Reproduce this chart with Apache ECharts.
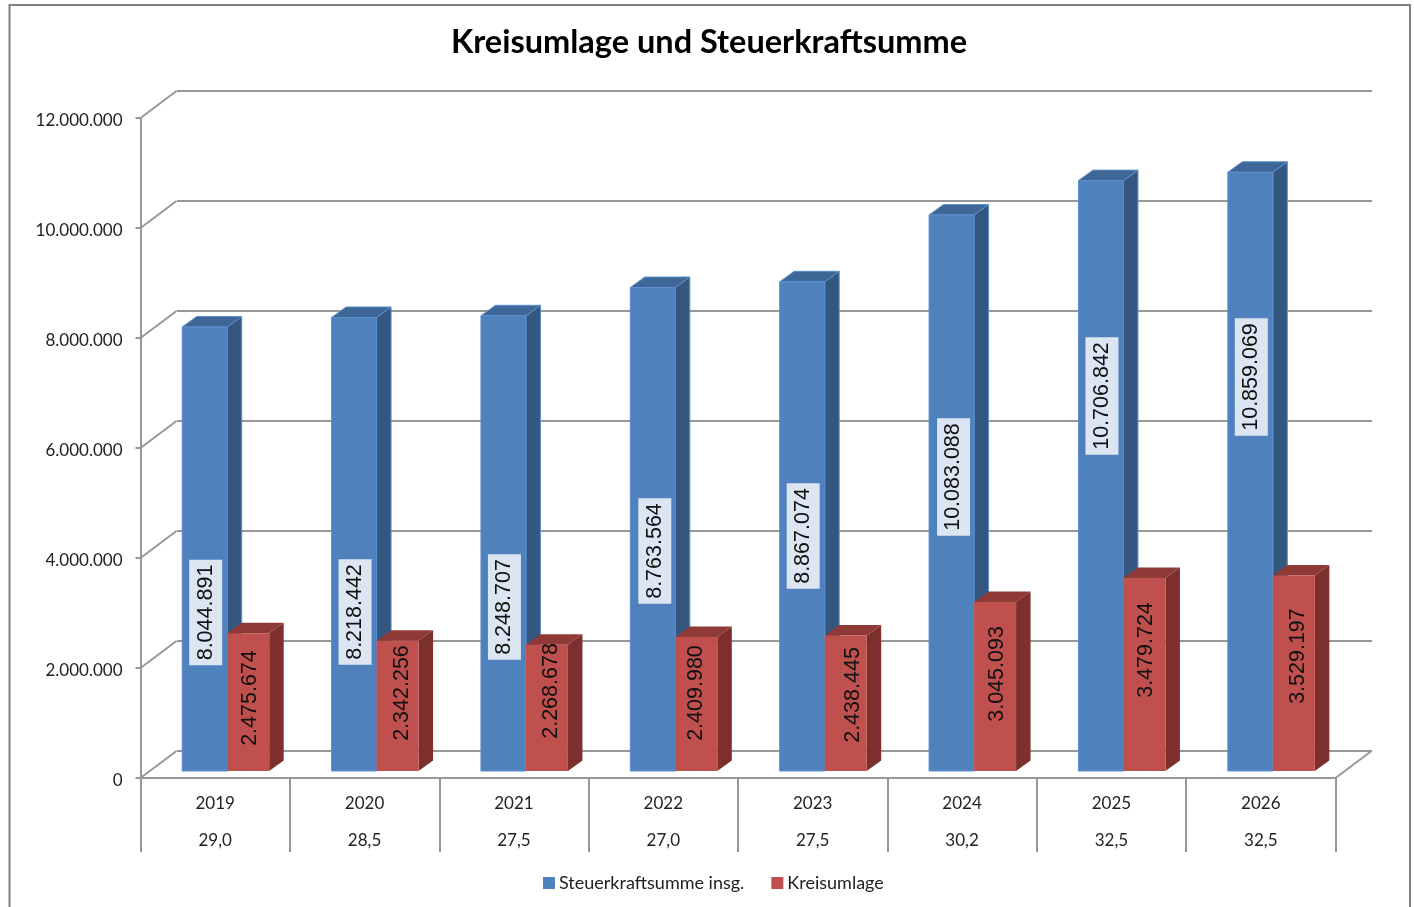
<!DOCTYPE html>
<html><head><meta charset="utf-8">
<style>html,body{margin:0;padding:0;background:#fff}#c{width:1414px;height:907px}</style>
<script src="https://cdn.jsdelivr.net/npm/echarts@6/dist/echarts.min.js"></script>
</head><body><div id="c"></div>
<script>
const years = ['2019','2020','2021','2022','2023','2024','2025','2026'];
const rates = ['29,0','28,5','27,5','27,0','27,5','30,2','32,5','32,5'];
const steuerkraft = [8044891,8218442,8248707,8763564,8867074,10083088,10706842,10859069];
const kreisumlage = [2475674,2342256,2268678,2409980,2438445,3045093,3479724,3529197];
const yTicks = [0,2000000,4000000,6000000,8000000,10000000,12000000];
// level on the value axis where each data label is centred (placed by hand in the original)
const steuerLabelLevel = [2882000,2891000,2982000,4000000,4273000,5345000,6818000,7164000];
const kreisLabelLevel = [1327000,1418000,1455000,1418000,1382000,1764000,2200000,2090000];
const steuerLabelNudge = [1,1,1,2,1,2,1,1];
const kreisLabelNudge = [2,5,4,0,7,2,2,4];

const FONT = 'Lato, "Noto Sans", sans-serif';
const LABELFONT = '21.5px "Liberation Sans", Arial, sans-serif';
const fmt = n => String(n).replace(/\B(?=(\d{3})+(?!\d))/g, '.');
const GREY = '#979797';

function bar(x0, x1, colors, labelBg, stroke) {
  return function (params, api) {
    const p0 = api.coord([api.value(0), 0]);
    const p1 = api.coord([api.value(0), api.value(1)]);
    const pl = api.coord([api.value(0), api.value(2)]);
    const cx = p0[0], yb = p0[1] - 7, yt = p1[1] - 8.5;
    const l = cx + x0, r = cx + x1, dx = 14.5, dy = -10.5;
    const edge = stroke ? {stroke: stroke, lineWidth: 1} : {};
    return {type: 'group', children: [
      {type: 'polygon', shape: {points: [[r, yb],[r + dx, yb + dy],[r + dx, yt + dy],[r, yt]]},
        style: Object.assign({fill: colors[2]}, edge)},
      {type: 'polygon', shape: {points: [[l, yt],[r, yt],[r + dx, yt + dy],[l + dx, yt + dy]]},
        style: Object.assign({fill: colors[1]}, edge)},
      {type: 'rect', shape: {x: l, y: yt, width: r - l, height: yb - yt},
        style: Object.assign({fill: colors[0]}, edge)},
      {type: 'text', x: (l + r) / 2 + (api.value(3) || 0), y: pl[1] - 7, rotation: Math.PI / 2,
        style: {text: fmt(api.value(1)), font: LABELFONT, fill: '#111', align: 'center', verticalAlign: 'middle',
          backgroundColor: labelBg, padding: labelBg ? [7, 5, 4, 5] : [3, 0, 0, 0]}}
    ]};
  };
}

const chart = echarts.init(document.getElementById('c'), null, {renderer: 'canvas'});
chart.setOption({
  backgroundColor: '#fff',
  animation: false,
  title: {text: 'Kreisumlage und Steuerkraftsumme', left: 704, textAlign: 'center', top: 21,
    textStyle: {fontFamily: FONT, fontWeight: 'bold', fontSize: 32.5, color: '#000'}},
  legend: {data: ['Steuerkraftsumme insg.', 'Kreisumlage'], left: 538, top: 869, icon: 'rect',
    itemWidth: 12, itemHeight: 12, itemGap: 27,
    textStyle: {fontFamily: FONT, fontSize: 18, color: '#222', padding: [0, 0, 0, -1]}},
  graphic: [{type: 'polyline', z: -1, shape: {points: [[9.5, 907],[9.5, 5],[1410, 5],[1410, 907]]},
    style: {fill: 'none', stroke: '#808080', lineWidth: 2}}],
  grid: [
    {left: 140.5, right: 78.5, top: 118, bottom: 129},
    {left: 177, right: 42, top: 91, bottom: 156}
  ],
  xAxis: [
    {type: 'category', gridIndex: 0, data: years.map((y, i) => y + '\n' + rates[i]),
      axisLine: {lineStyle: {color: GREY, width: 2}},
      axisTick: {show: true, alignWithLabel: false, interval: 0, length: 74, lineStyle: {color: GREY, width: 2}},
      axisLabel: {fontFamily: FONT, fontSize: 17, color: '#222', lineHeight: 37, margin: 7, interval: 0}},
    {type: 'category', gridIndex: 1, data: years,
      axisLine: {show: false}, axisTick: {show: false}, axisLabel: {show: false}}
  ],
  yAxis: [
    {type: 'value', gridIndex: 0, min: 0, max: 12000000, interval: 2000000,
      splitLine: {show: false},
      axisLine: {show: true, lineStyle: {color: GREY, width: 2}},
      axisTick: {show: true, length: 5, lineStyle: {color: GREY, width: 2}},
      axisLabel: {fontFamily: FONT, fontSize: 17, color: '#222', margin: 18, verticalAlign: 'top', lineHeight: 6, formatter: v => fmt(v)}},
    {type: 'value', gridIndex: 1, min: 0, max: 12000000, interval: 2000000,
      splitLine: {show: true, lineStyle: {color: GREY, width: 2}},
      axisLine: {show: false}, axisTick: {show: false}, axisLabel: {show: false}}
  ],
  series: [
    {type: 'custom', name: 'diagonals', xAxisIndex: 0, yAxisIndex: 0, silent: true, z: 1,
      data: yTicks.map(v => [0, v]), encode: {x: 0, y: 1},
      renderItem: function (params, api) {
        const y = api.coord([0, api.value(1)])[1];
        const x = params.coordSys.x, w = params.coordSys.width;
        const line = x0 => ({type: 'line', shape: {x1: x0, y1: y, x2: x0 + 36, y2: y - 27},
          style: {stroke: GREY, lineWidth: 2}});
        return {type: 'group', children: api.value(1) === 0 ? [line(x), line(x + w)] : [line(x)]};
      }},
    {type: 'custom', name: 'Steuerkraftsumme insg.', xAxisIndex: 0, yAxisIndex: 0, z: 2,
      itemStyle: {color: '#4f81bd'},
      data: years.map((y, i) => [i, steuerkraft[i], steuerLabelLevel[i], steuerLabelNudge[i]]), encode: {x: 0, y: 1},
      renderItem: bar(-33, 12, ['#4f81bd', '#3e6797', '#34577f'], '#dce6f2', '#5b8fce')},
    {type: 'custom', name: 'Kreisumlage', xAxisIndex: 0, yAxisIndex: 0, z: 3,
      itemStyle: {color: '#c0504d'},
      data: years.map((y, i) => [i, kreisumlage[i], kreisLabelLevel[i], kreisLabelNudge[i]]), encode: {x: 0, y: 1},
      renderItem: bar(12, 54, ['#c0504d', '#8f3a37', '#7d2f2d'], null, null)}
  ]
});
</script></body></html>
